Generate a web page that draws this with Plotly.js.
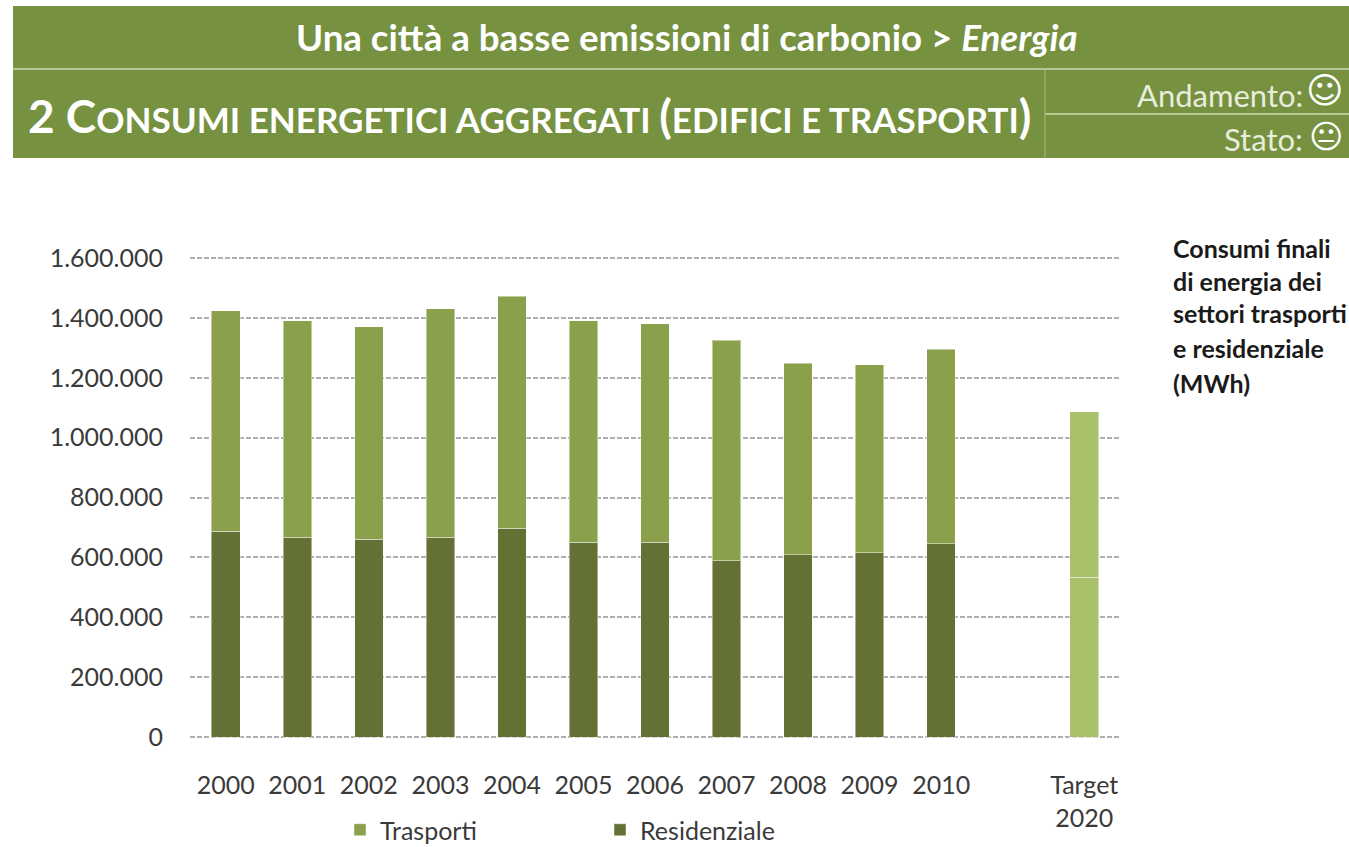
<!DOCTYPE html>
<html>
<head>
<meta charset="utf-8">
<script src="https://cdn.plot.ly/plotly-3.0.1.min.js"></script>
<style>html,body{margin:0;padding:0;background:#fff;overflow:hidden}</style>
</head>
<body>
<div id="chart" style="width:1349px;height:847px"></div>
<script>
const categories = ["2000","2001","2002","2003","2004","2005","2006","2007","2008","2009","2010"," ","Target<br>2020"];
const residenziale = [688000,668000,661000,668000,698000,651000,651000,588000,608000,615000,645000,null,534000];
const trasporti = [735000,722000,709000,762000,775000,739000,729000,738000,641000,628000,651000,null,552000];
const residenzialeColors = ["#637134","#637134","#637134","#637134","#637134","#637134","#637134","#637134","#637134","#637134","#637134","#637134","#A9C26A"];
const trasportiColors = ["#8BA04B","#8BA04B","#8BA04B","#8BA04B","#8BA04B","#8BA04B","#8BA04B","#8BA04B","#8BA04B","#8BA04B","#8BA04B","#8BA04B","#A9C26A"];
const noteLines = ["Consumi finali","di energia dei","settori trasporti","e residenziale","(MWh)"];
const tickValues = [0,200000,400000,600000,800000,1000000,1200000,1400000,1600000];

const W = 1349, H = 847, MB = 40;
const px = v => v / W;
const py = v => (H - MB - v) / (H - MB);
const FONT = "Lato, 'Open Sans', sans-serif";
const edge = {color:"rgba(255,255,255,0.45)", width:1};

const traces = [
  {type:"bar", name:"Residenziale", x:categories, y:residenziale, marker:{color:residenzialeColors, line:edge}},
  {type:"bar", name:"Trasporti", x:categories, y:trasporti, marker:{color:trasportiColors, line:edge}}
];

function hline(y, x0, x1){
  return {type:"line", xref:"paper", yref:"paper", x0:px(x0), x1:px(x1), y0:py(y), y1:py(y),
          line:{color:"#B7C794", width:2}};
}
const shapes = [
  {type:"rect", xref:"paper", yref:"paper", x0:px(13), x1:px(1349), y0:py(158), y1:py(6),
   fillcolor:"#769140", line:{width:0}, layer:"below"},
  hline(69, 13, 1349),
  hline(114, 1045, 1349),
  {type:"line", xref:"paper", yref:"paper", x0:px(1045), x1:px(1045), y0:py(69), y1:py(158),
   line:{color:"#A5B981", width:1}}
];

function label(text, x, y, font, xanchor){
  return {xref:"paper", yref:"paper", x:px(x), y:py(y), xanchor:xanchor, yanchor:"middle",
    showarrow:false, text:text, font:font};
}
const big = s => '<span style="font-size:46px">' + s + '</span>';
const subtitle = big("2 C") + "ONSUMI ENERGETICI AGGREGATI " + big("(") + "EDIFICI E TRASPORTI" + big(")");
const annotations = [
  label("Una città a basse emissioni di carbonio > <i>Energia</i>", 687, 37, {family:FONT,size:36.7,color:"#FFFFFF",weight:700}, "center"),
  label(subtitle, 26, 116, {family:FONT,size:35,color:"#FFFFFF",weight:700}, "left"),
  label("Andamento:", 1305, 95, {family:FONT,size:31,color:"#E8EDDC"}, "right"),
  label("☺", 1346, 91, {family:"DejaVu Sans",size:36,color:"#FFFFFF"}, "right"),
  label("Stato:", 1305, 139, {family:FONT,size:31,color:"#E8EDDC"}, "right"),
  label("😐", 1345, 136, {family:"DejaVu Sans",size:33,color:"#FFFFFF"}, "right")
];
const noteY = [248, 281, 313, 348, 383];
noteLines.forEach((t,i)=>annotations.push(label(t, 1171, noteY[i], {family:FONT,size:25,color:"#1A1A1A",weight:700}, "left")));

const tickFont = {family:FONT,size:25,color:"#3A3A3A"};
const layout = {
  width:W, height:H,
  margin:{l:0,r:0,t:0,b:MB,pad:0},
  paper_bgcolor:"#fff", plot_bgcolor:"#fff",
  font:{family:FONT, size:25, color:"#3A3A3A"},
  barmode:"stack", bargap:0.6,
  separators:",.",
  showlegend:true,
  legend:{orientation:"h", traceorder:"reversed", xref:"container", yref:"container", x:px(340), xanchor:"left", y:1-830/H, yanchor:"middle",
          entrywidth:215, entrywidthmode:"pixels", font:{family:FONT,size:25,color:"#3A3A3A"},
          bgcolor:"rgba(0,0,0,0)", itemclick:false},
  xaxis:{type:"category", categoryorder:"array", categoryarray:categories,
         domain:[px(190), px(1120)], anchor:"y", showgrid:false, showline:false, zeroline:false,
         ticks:"", tickfont:tickFont, ticklabelstandoff:30, tickangle:0, automargin:false, fixedrange:true},
  yaxis:{range:[-4000,1604000], tickvals:tickValues,
         tickformat:",d", domain:[py(738.2), py(256.8)], anchor:"x",
         showgrid:true, gridcolor:"#B0B0B0", gridwidth:1.5, griddash:"5px,2px",
         zeroline:false, showline:false,
         ticks:"", tickfont:tickFont, ticklabelstandoff:26, automargin:false, fixedrange:true},
  shapes:shapes,
  annotations:annotations
};
Plotly.newPlot("chart", traces, layout, {displayModeBar:false});
</script>
</body>
</html>
